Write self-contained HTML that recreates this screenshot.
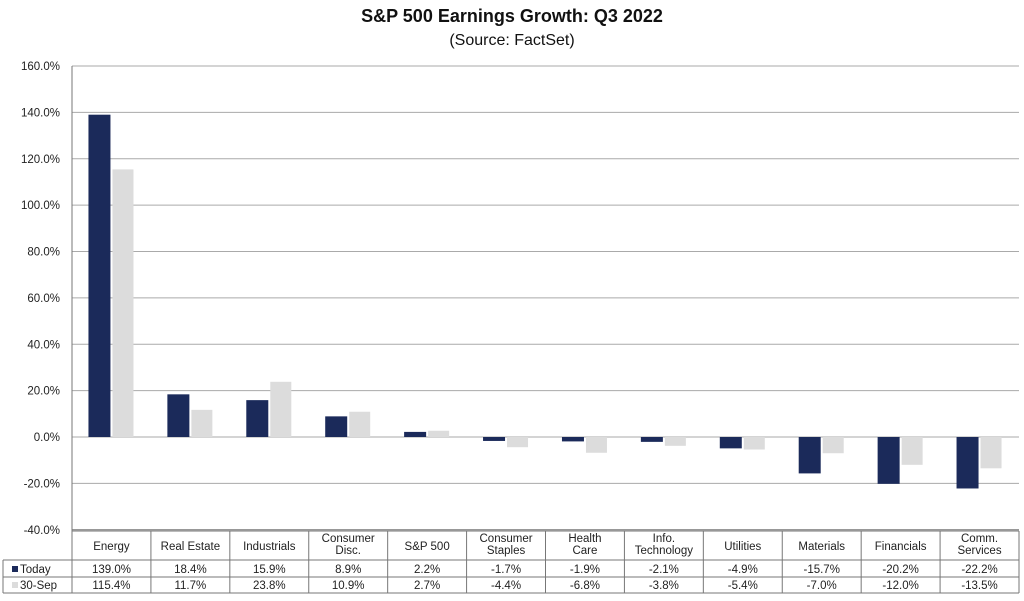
<!DOCTYPE html>
<html><head><meta charset="utf-8"><style>
body{margin:0;background:#fff;width:1024px;height:596px;overflow:hidden;font-family:"Liberation Sans",Arial,sans-serif}
</style></head><body>
<svg id="chart" width="1024" height="596" xmlns="http://www.w3.org/2000/svg" font-family="Liberation Sans, Arial, sans-serif">
<text x="512" y="22" text-anchor="middle" font-size="18" font-weight="bold" fill="#111">S&amp;P 500 Earnings Growth:  Q3 2022</text>
<text x="512" y="45" text-anchor="middle" font-size="16" fill="#111">(Source: FactSet)</text>
<g id="grid"></g><g id="bars"></g><g id="table"></g>
</svg>
<script>
const categories=["Energy","Real Estate","Industrials","Consumer\nDisc.","S&P 500","Consumer\nStaples","Health\nCare","Info.\nTechnology","Utilities","Materials","Financials","Comm.\nServices"];
const todayValues=[139.0,18.4,15.9,8.9,2.2,-1.7,-1.9,-2.1,-4.9,-15.7,-20.2,-22.2];
const sepValues=[115.4,11.7,23.8,10.9,2.7,-4.4,-6.8,-3.8,-5.4,-7.0,-12.0,-13.5];
const yTicks=[160,140,120,100,80,60,40,20,0,-20,-40];
const seriesNames=["Today","30-Sep"];
const NS="http://www.w3.org/2000/svg";
const X0=72,X1=1019,Y0=437,PPU=(437-66)/160;
const colW=(X1-X0)/categories.length;
const y=v=>Y0-v*PPU;
const cx=i=>X0+colW*(i+0.5);
function mk(tag,attrs,parent,text){const e=document.createElementNS(NS,tag);for(const k in attrs)e.setAttribute(k,attrs[k]);if(text!==undefined)e.textContent=text;parent.appendChild(e);return e;}
const grid=document.getElementById('grid'),bars=document.getElementById('bars'),table=document.getElementById('table');
yTicks.forEach(t=>{
  const l=mk('line',{x1:X0,x2:X1,y1:y(t),y2:y(t),stroke:t===-40?'#777':'#aaa','stroke-width':1},grid);
  
  
  const tx=mk('text',{x:60,y:y(t)+4,'text-anchor':'end','font-size':11.5,fill:'#222'},grid,t.toFixed(1)+'%');
  
  
});
const ax=mk('line',{x1:X0,x2:X0,y1:y(160),y2:593,stroke:'#777'},grid);


categories.forEach((c,i)=>{
  const a=todayValues[i],b=sepValues[i];
  const r1=mk('rect',{x:cx(i)-23,y:Math.min(y(a),Y0),width:22,height:Math.abs(y(a)-Y0),fill:'#1b2a5a'},bars);
  
  
  const r2=mk('rect',{x:cx(i)+1,y:Math.min(y(b),Y0),width:21,height:Math.abs(y(b)-Y0),fill:'#dcdcdc'},bars);
  
  
});
const T0=531,T1=560,T2=577,T3=593;
[[X0,T0,X1,T0],[3,T1,X1,T1],[3,T2,X1,T2],[3,T3,X1,T3],[3,T1,3,T3],[X1,T0,X1,T3]].forEach(p=>{
  const l=mk('line',{x1:p[0],y1:p[1],x2:p[2],y2:p[3],stroke:'#777'},table);
  
  
});
categories.forEach((c,i)=>{
  const xr=X0+colW*(i+1);
  const l=mk('line',{x1:xr,x2:xr,y1:T0,y2:T3,stroke:'#777'},table);
  
  
  const lines=c.split('\n');
  lines.forEach((s,j)=>{
    const yy=lines.length===1?550:542+j*12;
    const t=mk('text',{x:cx(i),y:yy,'text-anchor':'middle','font-size':11.5,fill:'#222'},table,s);
    
    
  });
  const t1=mk('text',{x:cx(i),y:573,'text-anchor':'middle','font-size':11.5,fill:'#222'},table,todayValues[i].toFixed(1)+'%');
  
  
  const t2=mk('text',{x:cx(i),y:589,'text-anchor':'middle','font-size':11.5,fill:'#222'},table,sepValues[i].toFixed(1)+'%');
  
  
});
[['#1b2a5a',573,seriesNames[0]],['#dcdcdc',589,seriesNames[1]]].forEach(([col,yy,n])=>{
  const s=mk('rect',{x:12,y:yy-7,width:6,height:6,fill:col},table);
  
  
  const t=mk('text',{x:20,y:yy,'font-size':11.5,fill:'#222'},table,n);
  
  
});
</script>
</body></html>
